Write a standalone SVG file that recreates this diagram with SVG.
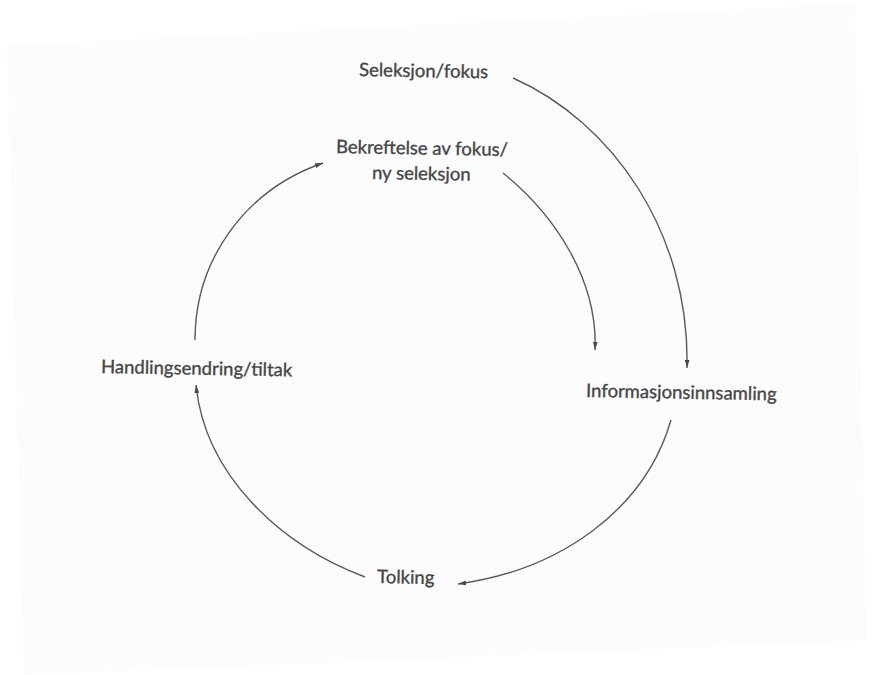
<svg xmlns="http://www.w3.org/2000/svg" width="880" height="675" viewBox="0 0 880 675">
  <style>
    .lbl { font-family: Lato, "Open Sans", "Liberation Sans", sans-serif; font-size: 18.5px; fill: #454545; stroke: #454545; stroke-width: 0.35; }
    .arc { fill: none; stroke: #5a5a5a; stroke-width: 1.4; marker-end: url(#tip); }
  </style>
  <defs>
    <marker id="tip" markerUnits="userSpaceOnUse" markerWidth="9" markerHeight="6" refX="8" refY="3" orient="auto">
      <path d="M0,0.6 L8,3 L0,5.4 Z" fill="#4a4a4a"/>
    </marker>
  </defs>

  <!-- paper sheet -->
  <rect width="880" height="675" fill="#ffffff"/>
  <polygon points="7,46 855,4 866,640 24,675" fill="#fcfcfc"/>

  <!-- cycle connectors -->
  <g id="connectors">
    <path class="arc" d="M513,78 C612,122 690,232 687,368"/>
    <path class="arc" d="M503,173 C555,215 598,280 595,350"/>
    <path class="arc" d="M671,420 C645,510 560,570 458,584"/>
    <path class="arc" d="M365,577 C280,545 205,475 196,385"/>
    <path class="arc" d="M195,340 C195,260 245,190 323,163"/>
  </g>

  <g id="seleksjon">
    <text class="lbl" x="359" y="76" transform="rotate(1 359 76)">Seleksjon/fokus</text>
  </g>
  <g id="bekreftelse">
    <text class="lbl" x="336" y="153" transform="rotate(1 336 153)">Bekreftelse av fokus/</text>
    <text class="lbl" x="372" y="179" transform="rotate(1 372 179)">ny seleksjon</text>
  </g>
  <g id="informasjon">
    <text class="lbl" x="586" y="397" transform="rotate(1 586 397)">Informasjonsinnsamling</text>
  </g>
  <g id="tolking">
    <text class="lbl" x="377" y="583" transform="rotate(1 377 583)">Tolking</text>
  </g>
  <g id="handling">
    <text class="lbl" x="101" y="373" transform="rotate(1 101 373)">Handlingsendring/tiltak</text>
  </g>
</svg>
